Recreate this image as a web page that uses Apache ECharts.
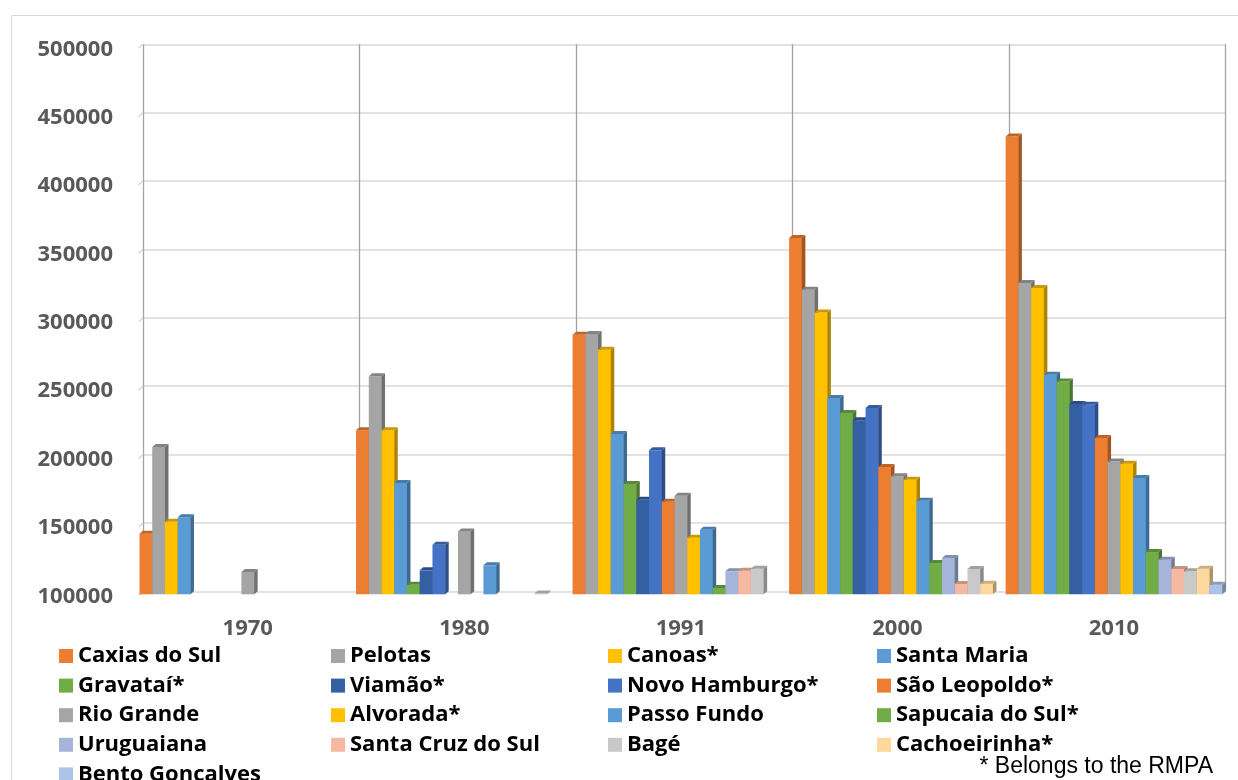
<!DOCTYPE html>
<html>
<head>
<meta charset="utf-8">
<script src="https://cdn.jsdelivr.net/npm/echarts@6/dist/echarts.min.js"></script>
<style>
  html, body { margin: 0; padding: 0; background: #ffffff; }
  #chart { width: 1238px; height: 780px; }
</style>
</head>
<body>
<div id="chart"></div>
<script>
// Census years on the category axis
const years = ['1970', '1980', '1991', '2000', '2010'];

// Value axis range and step
const yMin = 100000;
const yMax = 500000;
const yStep = 50000;
const yTicks = [100000, 150000, 200000, 250000, 300000, 350000, 400000, 450000, 500000];

// Population per city and census year (null = not shown that year)
const caxiasDoSul    = [144300, 219900, 289800, 360500, 434800];
const pelotas        = [207700, 259400, 290300, 322700, 327600];
const canoas         = [153100, 219900, 278800, 306100, 323900];
const santaMaria     = [156300, 181400, 217200, 243500, 260500];
const gravatai       = [null, 107000, 180600, 232500, 255700];
const viamao         = [null, 117500, 169200, 227200, 239100];
const novoHamburgo   = [null, 136300, 205300, 236200, 238600];
const saoLeopoldo    = [null, null, 167700, 193100, 214300];
const rioGrande      = [116300, 146000, 172100, 186300, 197200];
const alvorada       = [null, null, 141400, 183800, 195500];
const passoFundo     = [null, 121200, 147200, 168400, 185000];
const sapucaiaDoSul  = [null, null, 104600, 122900, 130900];
const uruguaiana     = [null, null, 116800, 126500, 125300];
const santaCruzDoSul = [null, null, 117300, 107500, 118500];
const bage           = [null, 100500, 118700, 118500, 116800];
const cachoeirinha   = [null, null, null, 107700, 118700];
const bentoGoncalves = [null, null, null, null, 107000];

const cityNames = [
  'Caxias do Sul', 'Pelotas', 'Canoas*', 'Santa Maria',
  'Gravataí*', 'Viamão*', 'Novo Hamburgo*', 'São Leopoldo*',
  'Rio Grande', 'Alvorada*', 'Passo Fundo', 'Sapucaia do Sul*',
  'Uruguaiana', 'Santa Cruz do Sul', 'Bagé', 'Cachoeirinha*',
  'Bento Goncalves'
];
const cityValues = [
  caxiasDoSul, pelotas, canoas, santaMaria,
  gravatai, viamao, novoHamburgo, saoLeopoldo,
  rioGrande, alvorada, passoFundo, sapucaiaDoSul,
  uruguaiana, santaCruzDoSul, bage, cachoeirinha,
  bentoGoncalves
];
const cityColors = [
  '#ED7D31', '#A5A5A5', '#FFC000', '#5B9BD5',
  '#70AD47', '#355FA3', '#4472C4', '#ED7D31',
  '#A5A5A5', '#FFC000', '#5B9BD5', '#70AD47',
  '#A5B4DB', '#F5B8A3', '#C9C9C9', '#FFD89E',
  '#A9C4E6'
];

// Legend columns (read top to bottom)
const legendColumns = [
  ['Caxias do Sul', 'Gravataí*', 'Rio Grande', 'Uruguaiana', 'Bento Goncalves'],
  ['Pelotas', 'Viamão*', 'Alvorada*', 'Santa Cruz do Sul'],
  ['Canoas*', 'Novo Hamburgo*', 'Passo Fundo', 'Bagé'],
  ['Santa Maria', 'São Leopoldo*', 'Sapucaia do Sul*', 'Cachoeirinha*']
];
const legendLeft = [59, 331, 608, 877];

// Pseudo-3D depth of each column
const DEPTH_X = 3.5;
const DEPTH_Y = 3;

const FONT = "'Open Sans', 'Liberation Sans', sans-serif";

function shade(hex, k) {
  const n = parseInt(hex.slice(1), 16);
  const r = Math.round(((n >> 16) & 255) * k);
  const g = Math.round(((n >> 8) & 255) * k);
  const b = Math.round((n & 255) * k);
  return 'rgb(' + r + ',' + g + ',' + b + ')';
}

// Draws one column: front face, right side and top face
function renderColumn(params, api) {
  const s = params.seriesIndex;
  const cat = api.value(0);
  const val = api.value(1);
  const top = api.coord([cat, val]);
  const base = api.coord([cat, yMin]);
  const band = api.size([1, 0])[0];
  const w = band / cityNames.length;
  const bx0 = top[0] - band / 2 + s * w;
  const bx1 = bx0 + w;
  const ty = top[1];
  const by = base[1];
  const fx0 = bx0 - DEPTH_X;
  const fx1 = bx1 - DEPTH_X;
  const fty = ty + DEPTH_Y;
  const fby = by + DEPTH_Y;
  const color = cityColors[s];
  return {
    type: 'group',
    children: [
      {
        type: 'rect',
        z2: s * 3,
        shape: { x: fx0, y: fty, width: w + 0.3, height: Math.max(0, fby - fty) },
        style: { fill: color }
      },
      {
        type: 'polygon',
        z2: s * 3 + 1,
        shape: { points: [[fx1, fty], [bx1, ty], [bx1, by], [fx1, fby]] },
        style: { fill: shade(color, 0.68) }
      },
      {
        type: 'polygon',
        z2: s * 3 + 2,
        shape: { points: [[fx0, fty], [bx0, ty], [bx1, ty], [fx1, fty]] },
        style: { fill: shade(color, 0.8) }
      }
    ]
  };
}

// Short slanted stub at the left end of every gridline (floor perspective)
function renderGridStub(params, api) {
  const p = api.coord([0, api.value(0)]);
  const band = api.size([1, 0])[0];
  const x = p[0] - band / 2;
  return {
    type: 'line',
    shape: { x1: x - DEPTH_X - 1, y1: p[1] + DEPTH_Y + 1, x2: x, y2: p[1] },
    style: { stroke: '#D9D9D9', lineWidth: 1.5 }
  };
}

const series = cityNames.map((name, i) => ({
  name: name,
  type: 'custom',
  renderItem: renderColumn,
  itemStyle: { color: cityColors[i] },
  encode: { x: 0, y: 1 },
  data: cityValues[i]
    .map((v, k) => (v === null ? null : [k, v]))
    .filter(d => d !== null)
}));

series.push({
  name: 'gridStubs',
  type: 'custom',
  z: 1,
  silent: true,
  renderItem: renderGridStub,
  encode: { y: 0 },
  data: yTicks.map(v => [v])
});

const legends = legendColumns.map((col, c) => ({
  data: col,
  orient: 'vertical',
  left: legendLeft[c],
  top: 645,
  height: 400,
  padding: 0,
  icon: 'rect',
  itemWidth: 14,
  itemHeight: 14,
  itemGap: 7.6,
  selectedMode: false,
  textStyle: {
    fontFamily: FONT,
    fontWeight: 'bold',
    fontSize: 22,
    color: '#000000',
    lineHeight: 20
  }
}));

const chart = echarts.init(document.getElementById('chart'), null, { renderer: 'canvas' });
chart.setOption({
  animation: false,
  backgroundColor: '#ffffff',
  grid: { left: 143, right: 12.3, top: 44.3, bottom: 188.7 },
  legend: legends,
  xAxis: {
    type: 'category',
    data: years,
    boundaryGap: true,
    axisLine: { show: false },
    axisTick: { show: false },
    axisLabel: {
      margin: 26,
      padding: [0, 7, 0, 0],
      fontFamily: FONT,
      fontWeight: 'bold',
      fontSize: 22,
      color: '#595959'
    },
    splitLine: { show: true, lineStyle: { color: '#A3A3A3', width: 1.3 } }
  },
  yAxis: {
    type: 'value',
    min: yMin,
    max: yMax,
    interval: yStep,
    axisLine: { show: false },
    axisTick: { show: false },
    axisLabel: {
      margin: 30,
      verticalAlign: 'top',
      lineHeight: 10,
      fontFamily: FONT,
      fontWeight: 'bold',
      fontSize: 22,
      color: '#595959',
      formatter: v => String(v)
    },
    splitLine: { show: true, lineStyle: { color: '#D9D9D9', width: 1.5 } }
  },
  graphic: [
    {
      type: 'rect',
      z: -10,
      shape: { x: 11.5, y: 15.5, width: 1400, height: 1000 },
      style: { fill: null, stroke: '#D9D9D9', lineWidth: 1 }
    },
    {
      type: 'text',
      right: 25,
      top: 755,
      style: {
        text: '* Belongs to the RMPA',
        fontFamily: "'Liberation Sans', Arial, sans-serif",
        fontSize: 23,
        fill: '#000000'
      }
    }
  ],
  series: series
});
</script>
</body>
</html>
